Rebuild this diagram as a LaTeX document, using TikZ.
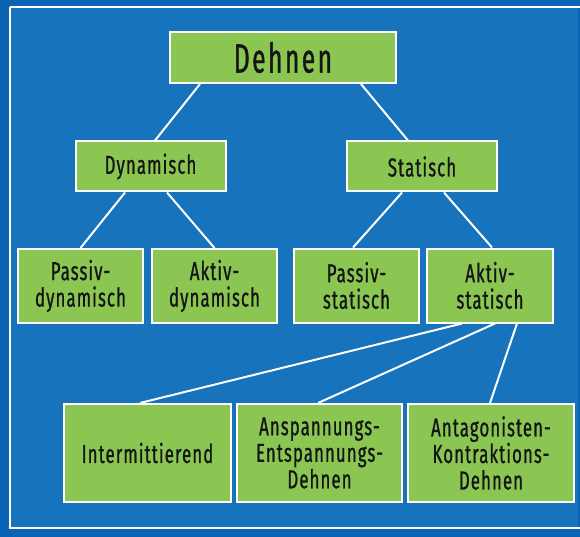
\documentclass[tikz,border=0pt]{standalone}
\usepackage{fontspec}
\setmainfont{Fira Sans}[FakeStretch=0.65,LetterSpace=4,FakeBold=0.8]
\newfontfamily\titlefont{Fira Sans}[FakeStretch=0.6,LetterSpace=6,FakeBold=0.8]
\definecolor{outerblue}{HTML}{0A63B3}
\definecolor{innerblue}{HTML}{1773BB}
\definecolor{boxgreen}{HTML}{8BC652}
\definecolor{txt}{HTML}{141414}
\begin{document}
\begin{tikzpicture}[x=1pt,y=-1pt,
  box/.style={draw=white,line width=2pt,fill=boxgreen,text=txt,align=center,inner sep=0pt,
    font=\fontsize{26}{26.5}\selectfont},
  link/.style={draw=white,line width=2pt}]
\fill[outerblue] (0,0) rectangle (580,537);
\useasboundingbox (0,0) rectangle (580,537);
\fill[innerblue] (10,7) rectangle (578,528);
\draw[white,line width=2.2pt] (10,7) -- (582,7);
\draw[white,line width=2.2pt] (10,7) -- (10,528) -- (582,528);
% boxes
\node[box,minimum width=226,minimum height=51,font=\titlefont\fontsize{41}{44}\selectfont] (dehnen) at (283,57.5) {Dehnen};
\node[box,minimum width=150,minimum height=50] (dyn) at (150.5,166.5) {Dynamisch};
\node[box,minimum width=150,minimum height=50] (stat) at (422,166.5) {Statisch};
\node[box,minimum width=125,minimum height=74] (pdyn) at (80.5,286) {Passiv-\\dynamisch};
\node[box,minimum width=125,minimum height=74] (adyn) at (214.5,286) {Aktiv-\\dynamisch};
\node[box,minimum width=125,minimum height=74] (pstat) at (356.5,285.5) {Passiv-\\statisch};
\node[box,minimum width=126,minimum height=74] (astat) at (490,285.5) {Aktiv-\\statisch};
\node[box,minimum width=167,minimum height=98] (inter) at (147.5,453) {Intermittierend};
\node[box,minimum width=165,minimum height=98] (ansp) at (319.5,453) {Anspannungs-\\Entspannungs-\\Dehnen};
\node[box,minimum width=166,minimum height=98] (antag) at (491,453) {Antagonisten-\\Kontraktions-\\Dehnen};
% connectors
\draw[link] ([xshift=-83pt]dehnen.south) -- ([xshift=4.5pt]dyn.north);
\draw[link] ([xshift=78pt]dehnen.south) -- ([xshift=-14pt]stat.north);
\draw[link] ([xshift=-25.5pt]dyn.south) -- (pdyn.north);
\draw[link] ([xshift=16.5pt]dyn.south) -- (adyn.north);
\draw[link] ([xshift=-20pt]stat.south) -- ([xshift=-3.5pt]pstat.north);
\draw[link] ([xshift=22pt]stat.south) -- ([xshift=2pt]astat.north);
\draw[link] ([xshift=-28pt]astat.south) -- ([xshift=-7.5pt]inter.north);
\draw[link] ([xshift=5pt]astat.south) -- ([xshift=-1.5pt]ansp.north);
\draw[link] ([xshift=27pt]astat.south) -- ([xshift=-1pt]antag.north);
\end{tikzpicture}
\end{document}
